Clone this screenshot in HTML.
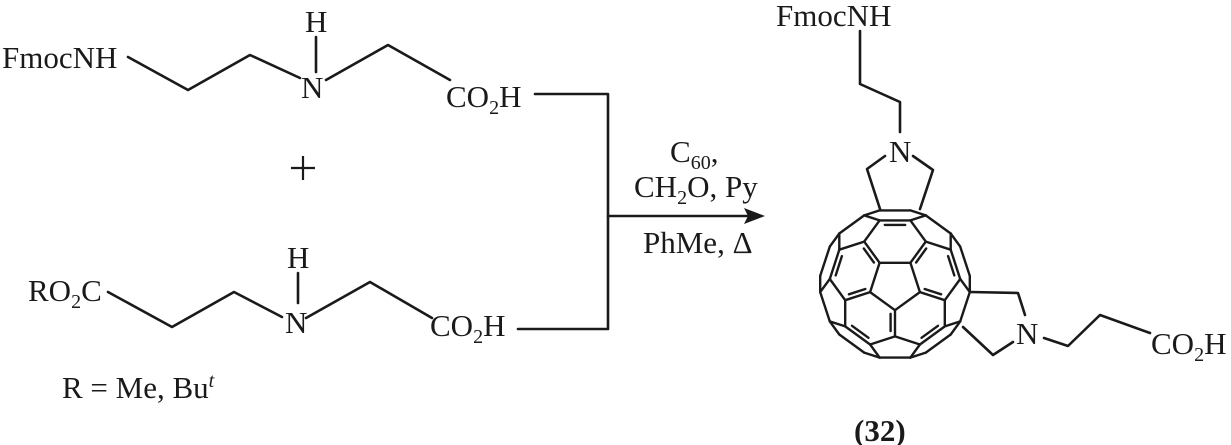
<!DOCTYPE html>
<html><head><meta charset="utf-8"><style>
html,body{margin:0;padding:0;background:#fff;}
svg{display:block;}
text{font-family:"Liberation Serif",serif;font-size:31px;fill:#1a1a1a;}
</style></head><body>
<svg id="s" width="1231" height="445" viewBox="0 0 1231 445" xmlns="http://www.w3.org/2000/svg">
<g stroke="#1a1a1a" stroke-width="2.6" fill="none" stroke-linecap="round" stroke-linejoin="round">
<polyline points="128,57 188,90 250,55 300,78"/>
<line x1="316" y1="37" x2="316" y2="72"/>
<polyline points="326,80 388,45 450,80"/>
<polyline points="535,94 608,94 608,329 518,329"/>
<polyline points="108,292 172,327 234,292 282,317"/>
<line x1="298" y1="273" x2="298" y2="303"/>
<polyline points="306,318 370,282 432,318"/>
<line x1="608" y1="216" x2="750" y2="216"/>
<polyline points="860,31 860,84 900,102 900,132"/>
<polyline points="885,156 867,169 880,209"/>
<polyline points="913,156 933,170 920,209"/>
<polyline points="970,292 1018,293 1025,315"/>
<polyline points="1013,342 993,355 963,327"/>
<polyline points="1044,338 1068,346 1100,315 1150,333"/>
</g>
<g stroke="#1a1a1a" stroke-width="2.2"><line x1="291" y1="168" x2="315" y2="168"/><line x1="303" y1="156" x2="303" y2="180"/></g>
<polygon points="765,216 744,208 748,216 744,224" fill="#1a1a1a"/>
<g id="ful" stroke="#1a1a1a" stroke-width="2.4" fill="none" stroke-linecap="round" stroke-linejoin="round"></g>
<text x="2" y="68">FmocNH</text>
<text x="305" y="32">H</text>
<text x="301" y="98">N</text>
<text x="446" y="107">CO<tspan font-size="20" dy="7">2</tspan><tspan dy="-7">H</tspan></text>
<text x="28" y="301">RO<tspan font-size="20" dy="7">2</tspan><tspan dy="-7">C</tspan></text>
<text x="287" y="268">H</text>
<text x="285" y="333">N</text>
<text x="430" y="336">CO<tspan font-size="20" dy="7">2</tspan><tspan dy="-7">H</tspan></text>
<text x="62" y="398">R = Me, Bu<tspan font-size="20" dy="-11" font-style="italic">t</tspan></text>
<text x="670" y="162">C<tspan font-size="20" dy="7">60</tspan><tspan dy="-7">,</tspan></text>
<text x="634" y="197">CH<tspan font-size="20" dy="7">2</tspan><tspan dy="-7">O, Py</tspan></text>
<text x="643" y="253">PhMe, Δ</text>
<text x="776" y="26">FmocNH</text>
<text x="889" y="162">N</text>
<text x="1016" y="344">N</text>
<text x="1151" y="354">CO<tspan font-size="20" dy="7">2</tspan><tspan dy="-7">H</tspan></text>
<text x="854" y="441" font-weight="bold" font-size="32">(32)</text>
</svg>
<script>
(function(){
var p=(1+Math.sqrt(5))/2,V=[];
[[0,1,3*p],[1,2+p,2*p],[p,2,2*p+1]].forEach(function(b){
 for(var sx of[-1,1])for(var sy of[-1,1])for(var sz of[-1,1]){
  var v=[b[0]*sx,b[1]*sy,b[2]*sz];
  [[0,1,2],[1,2,0],[2,0,1]].forEach(function(c){var w=[v[c[0]],v[c[1]],v[c[2]]];
   if(!V.some(function(q){return Math.abs(q[0]-w[0])+Math.abs(q[1]-w[1])+Math.abs(q[2]-w[2])<1e-6}))V.push(w);});
 }});
var adj=V.map(function(){return[]});
for(var i=0;i<V.length;i++)for(var j=i+1;j<V.length;j++){
 var d=Math.hypot(V[i][0]-V[j][0],V[i][1]-V[j][1],V[i][2]-V[j][2]);
 if(Math.abs(d-2)<1e-3){adj[i].push(j);adj[j].push(i);}}
function norm(a){var l=Math.hypot(a[0],a[1],a[2]);return[a[0]/l,a[1]/l,a[2]/l];}
function dot(a,b){return a[0]*b[0]+a[1]*b[1]+a[2]*b[2];}
function cross(a,b){return[a[1]*b[2]-a[2]*b[1],a[2]*b[0]-a[0]*b[2],a[0]*b[1]-a[1]*b[0]];}
var faces=[],seen={};
function dfs(start,n,path){
 if(path.length>6)return;
 for(var k of adj[n]){
  if(k===start&&path.length>=5){var key=path.slice().sort(function(a,b){return a-b}).join(',');
   if(!seen[key]){seen[key]=1;faces.push(path.slice());}continue;}
  if(path.indexOf(k)>=0)continue;
  if(path.length<6)dfs(start,k,path.concat([k]));
 }}
for(var i=0;i<V.length;i++)dfs(i,i,[i]);
var axis=null;
[[0,1,p],[0,p,1],[1,p,0],[p,1,0],[1,0,p],[p,0,1]].forEach(function(c){
 if(axis)return;var a=norm(c);var ds=V.map(function(v){return dot(v,a)}).sort(function(x,y){return y-x});
 if(Math.abs(ds[0]-ds[4])<1e-6&&ds[4]-ds[5]>1e-3)axis=a;});
var w=axis,u=norm(cross(w,[0.3,0.1,0.9])),vv=cross(w,u);
var top=V.map(function(v,i){return[dot(v,w),i]}).sort(function(a,b){return b[0]-a[0]})[0][1];
var ang=Math.atan2(dot(V[top],vv),dot(V[top],u)),rot=Math.PI/2-ang;
var cx=895,cy=284,s=15.4,R=Math.hypot(V[0][0],V[0][1],V[0][2]);
var P=V.map(function(v){var x=dot(v,u),y=dot(v,vv);
 return[cx+s*(x*Math.cos(rot)-y*Math.sin(rot)),cy+s*(x*Math.sin(rot)+y*Math.cos(rot)),dot(v,w)];});
var edgeFaces={};
faces.forEach(function(f,fi){for(var k=0;k<f.length;k++){var a=f[k],b=f[(k+1)%f.length];var key=Math.min(a,b)+'_'+Math.max(a,b);(edgeFaces[key]=edgeFaces[key]||[]).push(fi);}});
function fz(f){return f.reduce(function(s,i){return s+P[i][2]},0)/f.length;}
function fc(f){return[f.reduce(function(s,i){return s+P[i][0]},0)/f.length,f.reduce(function(s,i){return s+P[i][1]},0)/f.length];}
var vis=faces.map(function(f){return fz(f)>-0.12*R;});
var drawn={},h='';
faces.forEach(function(f,fi){if(!vis[fi])return;
 for(var k=0;k<f.length;k++){var a=f[k],b=f[(k+1)%f.length];var key=Math.min(a,b)+'_'+Math.max(a,b);
  if(drawn[key])continue;drawn[key]=1;
  var A=P[a],B=P[b];
  h+='<line x1="'+A[0].toFixed(1)+'" y1="'+A[1].toFixed(1)+'" x2="'+B[0].toFixed(1)+'" y2="'+B[1].toFixed(1)+'"/>';
  var ef=edgeFaces[key];
  if(ef.length===2&&faces[ef[0]].length===6&&faces[ef[1]].length===6&&(A[2]+B[2])/2>0.05*R){
   var best=fz(faces[ef[0]])>fz(faces[ef[1]])?ef[0]:ef[1];var C=fc(faces[best]);
   var mx=(A[0]+B[0])/2,my=(A[1]+B[1])/2,dx0=C[0]-mx,dy0=C[1]-my,l=Math.hypot(dx0,dy0)||1;
   var ox=dx0/l*4.5,oy=dy0/l*4.5,dx=(B[0]-A[0])*0.17,dy=(B[1]-A[1])*0.17;
   h+='<line x1="'+(A[0]+ox+dx).toFixed(1)+'" y1="'+(A[1]+oy+dy).toFixed(1)+'" x2="'+(B[0]+ox-dx).toFixed(1)+'" y2="'+(B[1]+oy-dy).toFixed(1)+'"/>';
  }
 }});
document.getElementById('ful').innerHTML=h;
})();
</script>
</body></html>
